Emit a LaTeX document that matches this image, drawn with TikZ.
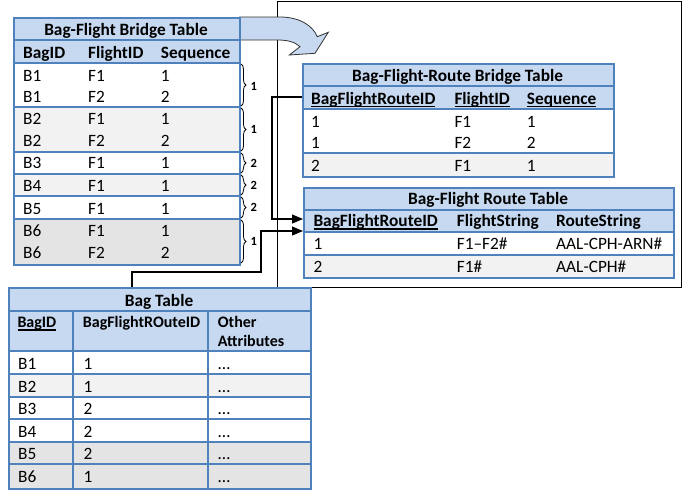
\documentclass[tikz,border=0pt]{standalone}
\usepackage{fontspec}
\setmainfont{Carlito}
\usetikzlibrary{arrows.meta,decorations.pathreplacing,calc}
\definecolor{hdr}{HTML}{C6D9F1}
\definecolor{bord}{HTML}{4F81BD}
\definecolor{gA}{HTML}{F2F2F2}
\definecolor{gB}{HTML}{E4E4E4}
\newcommand\myul[1]{\setbox0\hbox{#1}\rlap{\rule[-3.2pt]{\wd0}{1.3pt}}\box0}
\begin{document}
\begin{tikzpicture}[x=1pt,y=-1pt,
 txt/.style={inner sep=0pt, anchor=west, text height=11pt, text depth=0pt, font=\fontsize{17.3}{20}\selectfont},
 bold/.style={txt, font=\fontsize{17.3}{20}\selectfont\bfseries},
 sbold/.style={inner sep=0pt, anchor=west, text height=10pt, text depth=0pt, font=\fontsize{16}{18}\selectfont\bfseries},
 ttl/.style={bold, anchor=center},
 frm/.style={draw=bord, line width=1.6pt, inner sep=0pt, anchor=north west},
 sep/.style={draw=bord, line width=1.4pt},
 conn/.style={draw=black, line width=1.2pt, -{Triangle[length=11pt,width=9pt]}},
 brc/.style={decorate, decoration={brace, amplitude=5pt}, line width=0.8pt},
 blab/.style={inner sep=0pt, anchor=west, text height=8pt, text depth=0pt, font=\fontsize{12.5}{13}\selectfont\bfseries}]
\useasboundingbox (0,0) rectangle (694,491);

% big frame
\node[draw, line width=1.3pt, inner sep=0pt, minimum width=404pt, minimum height=286pt, anchor=north west] (grp) at (277,1) {};

% curved arrow
\filldraw[fill=hdr, draw=black!80, line width=0.8pt] (239,17) -- (280,17) .. controls (300,17) and (313,26) .. (317.3,36.7) -- (328.3,32.3) -- (315,53.3) -- (289.3,55) -- (300,46.7) .. controls (295,42) and (288,40) .. (277,40) -- (239,40);

% ---------- Bag-Flight Bridge Table ----------
\fill[hdr] (13,17) rectangle (239,63);
\fill[white] (13,63) rectangle (239,264);
\fill[gA] (13,107) rectangle (239,152);
\fill[gA] (13,174) rectangle (239,196);
\fill[gB] (13,219) rectangle (239,264);
\foreach \y in {40,63,107,152,174,196,219} \draw[sep] (13,\y) -- (239,\y);
\node[frm, minimum width=226pt, minimum height=247pt] (bft) at (13,17) {};
\node[ttl] (bftT) at (126,29.5) {Bag-Flight Bridge Table};
\node[bold] (bftH1) at (23,52.5) {BagID};
\node[bold] (bftH2) at (88,52.5) {FlightID};
\node[bold] (bftH3) at (160.7,52.5) {Sequence};
\foreach \y/\a/\b/\c [count=\i] in {76/B1/F1/1, 96.7/B1/F2/2, 119.3/B2/F1/1, 141/B2/F2/2, 163.3/B3/F1/1, 186/B4/F1/1, 208.7/B5/F1/1, 231/B6/F1/1, 253.3/B6/F2/2} {
  \node[txt] (bftA\i) at (23,\y) {\a};
  \node[txt] (bftB\i) at (88,\y) {\b};
  \node[txt] (bftC\i) at (160.7,\y) {\c};
}
\foreach \ya/\yb/\ym/\l [count=\i] in {63/107/86/1, 107/152/129.5/1, 152/174/163/2, 174/196/185/2, 196/219/207.5/2, 219/264/241.5/1} {
  \draw[brc] (241,\ya+1) -- (241,\yb-1);
  \node[blab] (brl\i) at (250.5,\ym) {\l};
}

% ---------- Bag-Flight-Route Bridge Table ----------
\fill[hdr] (302,63) rectangle (613,109);
\fill[white] (302,109) rectangle (613,176);
\fill[gA] (302,153) rectangle (613,176);
\foreach \y in {86,109,153} \draw[sep] (302,\y) -- (613,\y);
\node[frm, minimum width=311pt, minimum height=113pt] (rbt) at (302,63) {};
\node[ttl] (rbtT) at (457.5,76) {Bag-Flight-Route Bridge Table};
\node[bold] (rbtH1) at (311,98.5) {\myul{BagFlightRouteID}};
\node[bold] (rbtH2) at (454.3,98.5) {\myul{FlightID}};
\node[bold] (rbtH3) at (526.7,98.5) {\myul{Sequence}};
\foreach \y/\a/\b/\c [count=\i] in {121.7/1/F1/1, 142.7/1/F2/2, 165.7/2/F1/1} {
  \node[txt] (rbtA\i) at (311,\y) {\a};
  \node[txt] (rbtB\i) at (454.3,\y) {\b};
  \node[txt] (rbtC\i) at (526.7,\y) {\c};
}

% ---------- Bag-Flight Route Table ----------
\fill[hdr] (303,187) rectangle (673,232);
\fill[white] (303,232) rectangle (673,277);
\fill[gA] (303,255) rectangle (673,277);
\foreach \y in {210,232,255} \draw[sep] (303,\y) -- (673,\y);
\node[frm, minimum width=370pt, minimum height=90pt] (rt) at (303,187) {};
\node[ttl] (rtT) at (488,199) {Bag-Flight Route Table};
\node[bold] (rtH1) at (313.3,221) {\myul{BagFlightRouteID}};
\node[bold] (rtH2) at (456.7,221) {FlightString};
\node[bold] (rtH3) at (556,221) {RouteString};
\foreach \y/\a/\b/\c [count=\i] in {244.3/1/F1–F2\#/AAL-CPH-ARN\#, 266.7/2/F1\#/AAL-CPH\#} {
  \node[txt] (rtA\i) at (313.3,\y) {\a};
  \node[txt] (rtB\i) at (456.7,\y) {\b};
  \node[txt] (rtC\i) at (556,\y) {\c};
}

% ---------- Bag Table ----------
\fill[hdr] (8,287) rectangle (310,351);
\fill[white] (8,351) rectangle (310,488);
\fill[gA] (8,374) rectangle (310,397);
\fill[gB] (8,442) rectangle (310,488);
\foreach \y in {311,351,374,397,419,442,464} \draw[sep] (8,\y) -- (310,\y);
\foreach \x in {73,208} \draw[sep] (\x,311) -- (\x,488);
\node[frm, minimum width=302pt, minimum height=201pt] (bag) at (8,287) {};
\node[ttl] (bagT) at (159,300.7) {Bag Table};
\node[sbold] (bagH1) at (17.3,322.3) {\myul{BagID}};
\node[sbold] (bagH2) at (82.7,322.3) {BagFlightROuteID};
\node[sbold] (bagH3) at (217.7,322.3) {Other};
\node[sbold] (bagH4) at (217.7,341.7) {Attributes};
\foreach \y/\a/\b [count=\i] in {364/B1/1, 386.7/B2/1, 409.3/B3/2, 431.7/B4/2, 454.3/B5/2, 477.3/B6/1} {
  \node[txt] (bagA\i) at (18,\y) {\a};
  \node[txt] (bagB\i) at (83.3,\y) {\b};
  \node[txt] (bagC\i) at (218,\y) {…};
}

% ---------- connectors ----------
\coordinate (c1s) at ($(rbt.north west)+(0,34)$);
\coordinate (c1e) at ($(rt.north west)+(0,32)$);
\draw[conn] (c1s) -- ++(-30,0) |- (c1e);
\coordinate (c2s) at ($(bag.north west)+(124,0)$);
\coordinate (c2e) at ($(rt.north west)+(0,44)$);
\draw[conn] (c2s) -- ++(0,-15) -- ++(129,0) |- (c2e);
\end{tikzpicture}
\end{document}
